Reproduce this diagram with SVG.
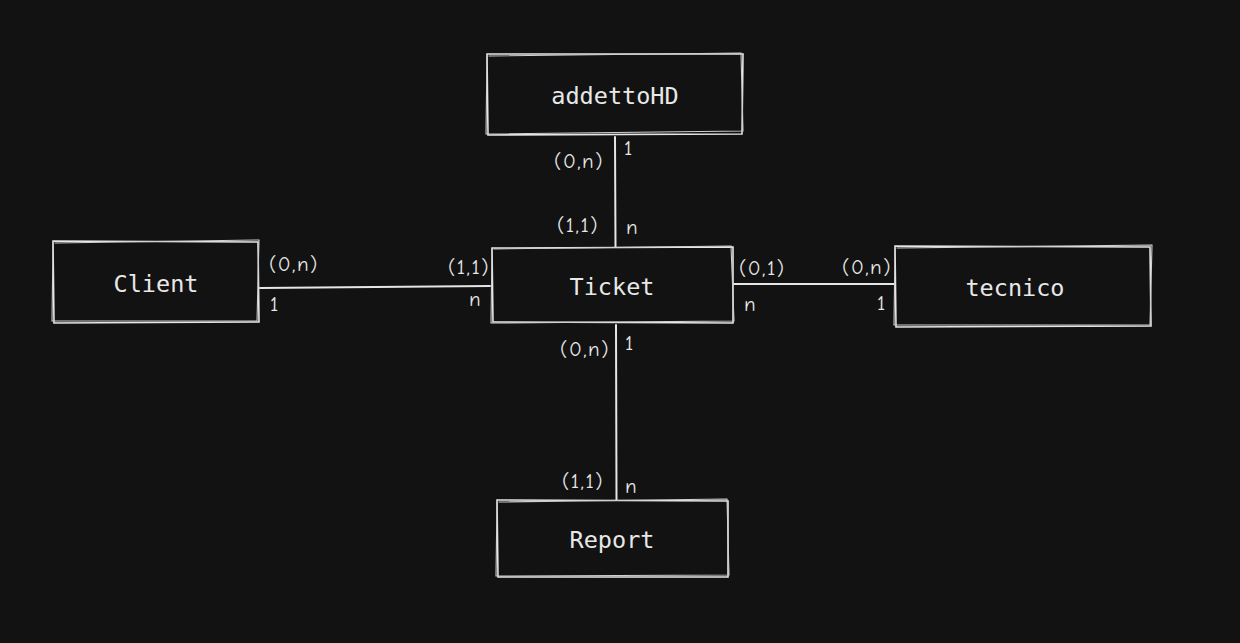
<svg xmlns="http://www.w3.org/2000/svg" width="1240" height="643" viewBox="0 0 1240 643">
<style>
.bg{fill:#121212}
.box{fill:#121212;stroke:none}
.s1{fill:none;stroke:#e6e6e6;stroke-width:1.6;stroke-linecap:round}
.s2{fill:none;stroke:#cfcfcf;stroke-width:1.1;stroke-linecap:round}
.ent{font-family:"DejaVu Sans Mono","Liberation Mono",monospace;font-size:23.5px;fill:#e8e8e8;text-anchor:middle;dominant-baseline:central}
.lbl{font-family:"Comic Neue","Liberation Sans",sans-serif;font-size:21px;fill:#e8e8e8;letter-spacing:1.5px}
.e{text-anchor:end}
.conn{stroke:#e6e6e6;stroke-width:2;fill:none;stroke-linecap:round}
</style>
<rect class="bg" width="1240" height="643"/>
<g id="connectors">
<path class="conn" d="M615 137 L615.5 247"/>
<path class="conn" d="M260 288 L490 286"/>
<path class="conn" d="M734 284 L895 284"/>
<path class="conn" d="M616 325 L616.5 500"/>
</g>
<g id="addettoHD">
<rect class="box" x="487" y="54" width="256" height="81"/>
<path class="s1" d="M487 54 L743 54 L742 134 L488 135 Z"/>
<path class="s2" d="M489 56 L741 53 L743 131 L486 134 L487 56"/>
<text class="ent" x="615" y="96">addettoHD</text>
</g>
<g id="Client">
<rect class="box" x="53" y="241" width="206" height="82"/>
<path class="s1" d="M53 241 L258 242 L259 322 L54 323 Z"/>
<path class="s2" d="M55 243 L259 240 L257 321 L52 321 L53 243"/>
<text class="ent" x="156" y="284">Client</text>
</g>
<g id="Ticket">
<rect class="box" x="492" y="247" width="241" height="76"/>
<path class="s1" d="M492 248 L733 247 L733 323 L493 322 Z"/>
<path class="s2" d="M494 249 L731 246 L734 321 L491 323 L492 249"/>
<text class="ent" x="612" y="287">Ticket</text>
</g>
<g id="tecnico">
<rect class="box" x="895" y="246" width="256" height="81"/>
<path class="s1" d="M895 246 L1150 247 L1151 326 L896 327 Z"/>
<path class="s2" d="M897 248 L1152 245 L1150 325 L894 325 L895 248"/>
<text class="ent" x="1015" y="288">tecnico</text>
</g>
<g id="Report">
<rect class="box" x="497" y="500" width="231" height="77"/>
<path class="s1" d="M497 500 L728 501 L728 577 L498 577 Z"/>
<path class="s2" d="M499 502 L727 499 L729 575 L496 576 L497 502"/>
<text class="ent" x="612" y="540">Report</text>
</g>
<g id="labels">
<text class="lbl e" x="604" y="168">(0,n)</text>
<text class="lbl" x="624" y="155">1</text>
<text class="lbl e" x="599" y="232">(1,1)</text>
<text class="lbl" x="626" y="234">n</text>
<text class="lbl" x="269" y="271">(0,n)</text>
<text class="lbl" x="270" y="311">1</text>
<text class="lbl e" x="490" y="274">(1,1)</text>
<text class="lbl" x="469" y="306">n</text>
<text class="lbl" x="739" y="275">(0,1)</text>
<text class="lbl" x="744" y="311">n</text>
<text class="lbl e" x="892" y="274">(0,n)</text>
<text class="lbl" x="877" y="310">1</text>
<text class="lbl e" x="610" y="356">(0,n)</text>
<text class="lbl" x="625" y="350">1</text>
<text class="lbl e" x="604" y="488">(1,1)</text>
<text class="lbl" x="625" y="493">n</text>
</g>
</svg>
